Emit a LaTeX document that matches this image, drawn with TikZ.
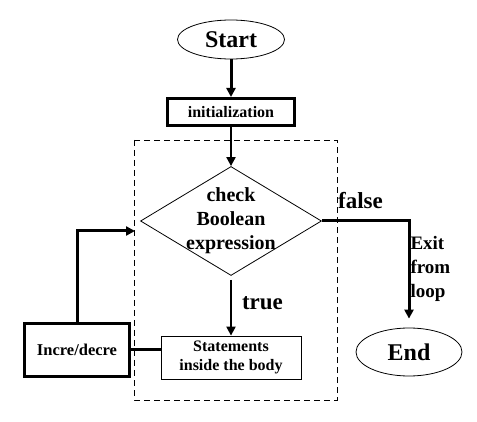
\documentclass[tikz,border=0pt]{standalone}
\usepackage{fontspec}
\setmainfont{Liberation Serif}
\usetikzlibrary{shapes.geometric,arrows.meta}

\begin{document}
\begin{tikzpicture}[x=1pt,y=-1pt,
    term/.style={draw,ellipse,line width=0.8pt,inner sep=0pt,font=\bfseries\fontsize{24}{28}\selectfont},
    block/.style={draw,rectangle,inner sep=0pt,align=center},
    decision/.style={draw,diamond,line width=0.8pt,inner sep=-20pt,align=center,font=\bfseries\fontsize{20}{24}\selectfont},
    flow/.style={line width=#1,-{Triangle[length=9pt,width=9pt]}},
    flow/.default=3pt,
    tag/.style={font=\bfseries\fontsize{23}{27}\selectfont}]
    \useasboundingbox (0,0) rectangle (477,422);

    % Draw the loop frame
    \draw[line width=0.8pt,dash pattern=on 6pt off 4pt] (134,140) rectangle (337,400);

    % Draw the steps
    \node[term,minimum width=107pt,minimum height=39pt] (start) at (231,39.5) {Start};
    \node[block,line width=3pt,minimum width=127pt,minimum height=27pt,font=\bfseries\fontsize{16}{18}\selectfont] (init) at (231,112) {initialization};
    \node[decision,minimum width=181pt,minimum height=109pt] (check) at (231,221) {check\\Boolean\\expression};
    \node[block,line width=0.8pt,minimum width=140pt,minimum height=43pt,font=\bfseries\fontsize{16}{19}\selectfont] (body) at (231,357.5) {Statements\\inside the body};
    \node[block,line width=3pt,minimum width=105pt,minimum height=53pt,font=\bfseries\fontsize{16.5}{19}\selectfont] (incr) at (77,350) {Incre/decre};
    \node[term,minimum width=106pt,minimum height=48pt] (finish) at (409,352) {End};

    % Add the labels
    \node[tag] (false) at (360.5,200.5) {false};
    \node[tag] (true) at (262.5,303.5) {true};
    \node[align=left,anchor=west,font=\bfseries\fontsize{19}{24}\selectfont] (exit) at (407,269) {Exit\\from\\loop};
    \coordinate (loopin) at (135,231);

    % Draw the connectors
    \draw[flow] (start) -- (init);
    \draw[flow=2pt] (init) -- (check);
    \draw[flow=2pt,shorten <=4pt] (check) -- (body);
    \draw[flow,shorten >=9pt] (check.east) -| (finish);
    \draw[line width=3pt] (incr.east) -- (incr.east -| body.west);
    \draw[flow] (incr.north) |- (loopin);
\end{tikzpicture}
\end{document}
